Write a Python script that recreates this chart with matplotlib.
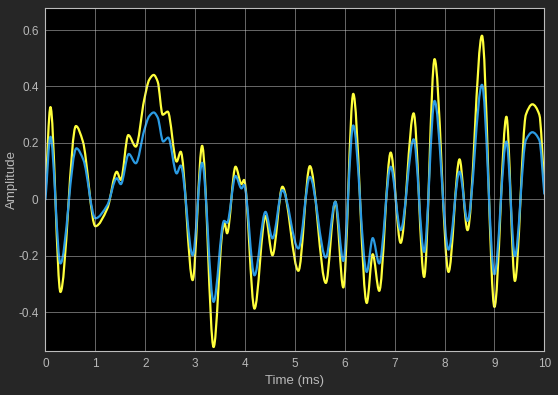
import matplotlib.pyplot as plt
import numpy as np
from matplotlib.path import Path
from matplotlib.patches import PathPatch

plt.rcParams['font.family'] = ['Liberation Sans', 'DejaVu Sans']

# values (time in ms, amplitude)
t_yellow = [0.00, 0.10, 0.30, 0.61, 0.75, 1.00, 1.24, 1.43, 1.51, 1.66, 1.81, 1.98, 2.08, 2.17,
            2.25, 2.35, 2.45, 2.63, 2.71, 2.95, 3.14, 3.37, 3.55, 3.59, 3.64, 3.81, 3.93, 3.98,
            4.19, 4.41, 4.55, 4.75, 5.07, 5.30, 5.62, 5.81, 5.97, 6.17, 6.44, 6.56, 6.69, 6.92,
            7.12, 7.38, 7.59, 7.80, 8.08, 8.30, 8.46, 8.75, 9.00, 9.24, 9.41, 9.63, 9.76, 9.90, 10.0]
y_yellow = [0.02, 0.327, -0.328, 0.26, 0.205, -0.095, -0.032, 0.098, 0.069, 0.228, 0.187, 0.354, 0.424, 0.441,
            0.417, 0.30, 0.311, 0.134, 0.169, -0.286, 0.19, -0.523, -0.109, -0.083, -0.12, 0.116, 0.054, 0.069,
            -0.387, -0.059, -0.198, 0.045, -0.253, 0.118, -0.296, -0.008, -0.312, 0.374, -0.367, -0.194, -0.324, 0.166,
            -0.154, 0.305, -0.275, 0.497, -0.257, 0.142, -0.109, 0.58, -0.381, 0.293, -0.289, 0.30, 0.337, 0.30, 0.045]

t_blue = [0.00, 0.10, 0.30, 0.62, 0.76, 1.00, 1.24, 1.43, 1.51, 1.67, 1.81, 1.98, 2.08, 2.17,
          2.25, 2.36, 2.46, 2.63, 2.71, 2.95, 3.14, 3.37, 3.58, 3.64, 3.81, 3.93, 3.98,
          4.19, 4.41, 4.55, 4.75, 5.07, 5.30, 5.62, 5.81, 5.97, 6.17, 6.44, 6.56, 6.69, 6.92,
          7.12, 7.38, 7.59, 7.80, 8.08, 8.30, 8.46, 8.75, 9.00, 9.24, 9.41, 9.63, 9.76, 9.90, 10.0]
y_blue = [0.0, 0.222, -0.227, 0.181, 0.14, -0.067, -0.02, 0.075, 0.054, 0.161, 0.128, 0.245, 0.295, 0.308,
          0.29, 0.205, 0.219, 0.092, 0.12, -0.198, 0.13, -0.363, -0.076, -0.083, 0.083, 0.039, 0.051,
          -0.269, -0.044, -0.138, 0.033, -0.174, 0.080, -0.206, -0.008, -0.218, 0.262, -0.257, -0.137, -0.227, 0.116,
          -0.109, 0.213, -0.186, 0.349, -0.178, 0.098, -0.076, 0.406, -0.265, 0.205, -0.201, 0.21, 0.238, 0.21, 0.02]


def smooth_path(t, y):
    # cubic bezier through the read points, flat tangents at turning points
    t = np.asarray(t, float)
    y = np.asarray(y, float)
    h = np.diff(t)
    delta = np.diff(y) / h
    d = np.zeros_like(y)
    d[0], d[-1] = delta[0], delta[-1]
    for k in range(1, len(y) - 1):
        if delta[k - 1] * delta[k] > 0:
            w1 = 2 * h[k] + h[k - 1]
            w2 = h[k] + 2 * h[k - 1]
            d[k] = (w1 + w2) / (w1 / delta[k - 1] + w2 / delta[k])
    verts = [(t[0], y[0])]
    codes = [Path.MOVETO]
    for k in range(len(h)):
        verts += [(t[k] + h[k] / 3, y[k] + d[k] * h[k] / 3),
                  (t[k + 1] - h[k] / 3, y[k + 1] - d[k + 1] * h[k] / 3),
                  (t[k + 1], y[k + 1])]
        codes += [Path.CURVE4] * 3
    return Path(verts, codes)


bg = '#262626'
fg = '#b8b8b8'

fig = plt.figure(figsize=(5.58, 3.95), dpi=100, facecolor=bg)
ax = fig.add_axes([0.0815, 0.1114, 0.894, 0.8683])
ax.set_facecolor('black')

for tt, yy, col in [(t_yellow, y_yellow, '#ffff3c'), (t_blue, y_blue, '#2b9be3')]:
    ax.add_patch(PathPatch(smooth_path(tt, yy), fill=False, edgecolor=col, linewidth=1.6,
                           capstyle='round', joinstyle='round'))

ax.set_xlim(0, 10)
ax.set_ylim(-0.537, 0.678)
ax.set_xticks(range(0, 11))
ax.set_yticks([-0.4, -0.2, 0, 0.2, 0.4, 0.6])
ax.set_yticklabels(['-0.4', '-0.2', '0', '0.2', '0.4', '0.6'])

ax.grid(True, color='#d0d0d0', alpha=0.5, linewidth=0.7)
for s in ax.spines.values():
    s.set_color('#bcbcbc')
    s.set_linewidth(0.8)
ax.tick_params(colors=fg, labelsize=8.5, length=0, pad=5)
ax.set_xlabel('Time (ms)', color=fg, fontsize=9.5, labelpad=4)
ax.set_ylabel('Amplitude', color=fg, fontsize=9.5, labelpad=0)
for lbl in ax.get_xticklabels() + ax.get_yticklabels():
    lbl.set_color(fg)

plt.savefig('out.png', dpi=100, facecolor=bg)
